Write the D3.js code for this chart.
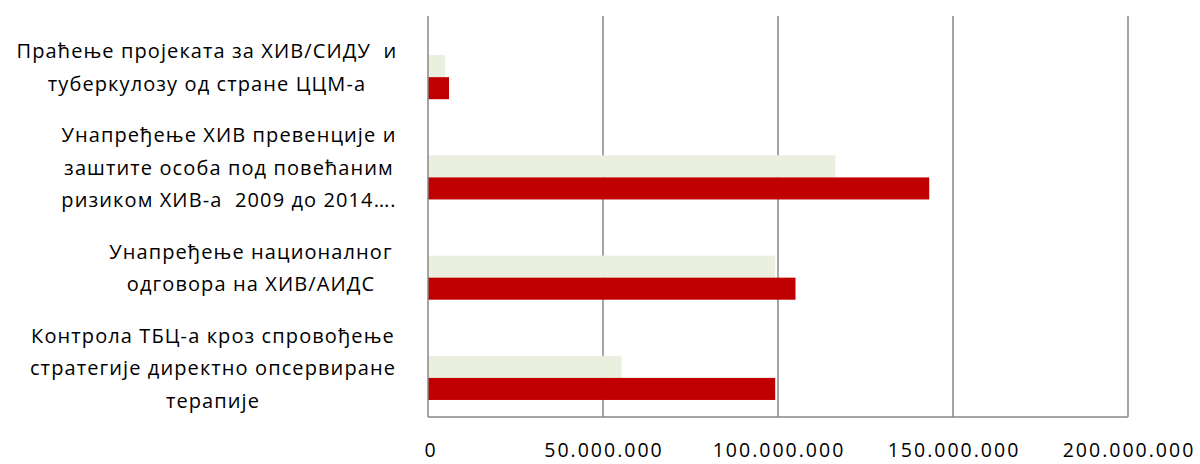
<!DOCTYPE html>
<html>
<head>
<meta charset="utf-8">
<script src="https://cdn.jsdelivr.net/npm/d3@7"></script>
<style>
  body { margin: 0; background: #fff; }
  svg { display: block; }
  text { font-family: "Open Sans", "Noto Sans", sans-serif; fill: #000; white-space: pre; }
</style>
</head>
<body>
<svg id="chart" width="1200" height="464"></svg>
<script>
// категорије (редови одозго надоле), свака као низ редова текста
const categories = [
    ["Праћење пројеката за ХИВ/СИДУ  и", "туберкулозу од стране ЦЦМ-а"],
    ["Унапређење ХИВ превенције и", "заштите особа под повећаним", "ризиком ХИВ-а  2009 до 2014…."],
    ["Унапређење националног", "одговора на ХИВ/АИДС"],
    ["Контрола ТБЦ-а кроз спровођење", "стратегије директно опсервиране", "терапије"]
];

// вредности серија
const seriesLight = [4900000, 116400000, 99200000, 55300000];
const seriesRed = [6000000, 143200000, 105000000, 99200000];

const tickValues = [0, 50000000, 100000000, 150000000, 200000000];
const tickLabels = ["0", "50.000.000", "100.000.000", "150.000.000", "200.000.000"];

// центар натписа (x) за сваку категорију
const labelCenters = [207, 229, 251, 213];

const svg = d3.select("#chart");
const plotLeft = 428, plotRight = 1128, plotTop = 16, plotBottom = 417;

const x = d3.scaleLinear().domain([0, 200000000]).range([plotLeft, plotRight]);
const y = d3.scaleBand().domain(d3.range(categories.length)).range([plotTop, plotBottom]);
// три места у групи, прво празно
const inner = d3.scaleBand().domain(["empty", "light", "red"])
    .range([0, y.bandwidth() * 0.66]);

// мрежа
svg.append("g").selectAll("line")
    .data(tickValues.slice(1))
    .join("line")
    .attr("x1", d => x(d)).attr("x2", d => x(d))
    .attr("y1", plotTop).attr("y2", plotBottom)
    .attr("stroke", "#878787").attr("stroke-width", 1.5);

// траке
const bandOffset = y.bandwidth() * 0.17;
svg.append("g").selectAll("rect")
    .data(seriesLight)
    .join("rect")
    .attr("x", x(0))
    .attr("y", (d, i) => y(i) + bandOffset + inner("light"))
    .attr("width", d => x(d) - x(0))
    .attr("height", inner.bandwidth())
    .attr("fill", "#ebefdf");

svg.append("g").selectAll("rect")
    .data(seriesRed)
    .join("rect")
    .attr("x", x(0))
    .attr("y", (d, i) => y(i) + bandOffset + inner("red"))
    .attr("width", d => x(d) - x(0))
    .attr("height", inner.bandwidth())
    .attr("fill", "#c00000");

// осе
svg.append("line")
    .attr("x1", plotLeft).attr("x2", plotLeft).attr("y1", plotTop).attr("y2", plotBottom)
    .attr("stroke", "#878787").attr("stroke-width", 1.5);
svg.append("line")
    .attr("x1", plotLeft).attr("x2", plotRight).attr("y1", plotBottom).attr("y2", plotBottom)
    .attr("stroke", "#878787").attr("stroke-width", 1.5);

// натписи на x оси
svg.append("g").selectAll("text")
    .data(tickValues)
    .join("text")
    .attr("x", (d, i) => i === 0 ? x(d) + 3 : x(d) + 1)
    .attr("y", 457)
    .attr("text-anchor", "middle")
    .attr("font-size", 19.5)
    .attr("letter-spacing", "2px")
    .text((d, i) => tickLabels[i]);

// натписи категорија
const lineH = 32.5;
categories.forEach((lines, i) => {
    const cy = y(i) + y.bandwidth() / 2 + 1.5;
    const y0 = cy - (lines.length - 1) * lineH / 2;
    svg.append("g").selectAll("text")
        .data(lines)
        .join("text")
        .attr("x", labelCenters[i])
        .attr("y", (d, j) => y0 + j * lineH)
        .attr("dy", "0.35em")
        .attr("text-anchor", "middle")
        .attr("font-size", 20)
        .attr("letter-spacing", "1.1px")
        .text(d => d);
});
</script>
</body>
</html>
